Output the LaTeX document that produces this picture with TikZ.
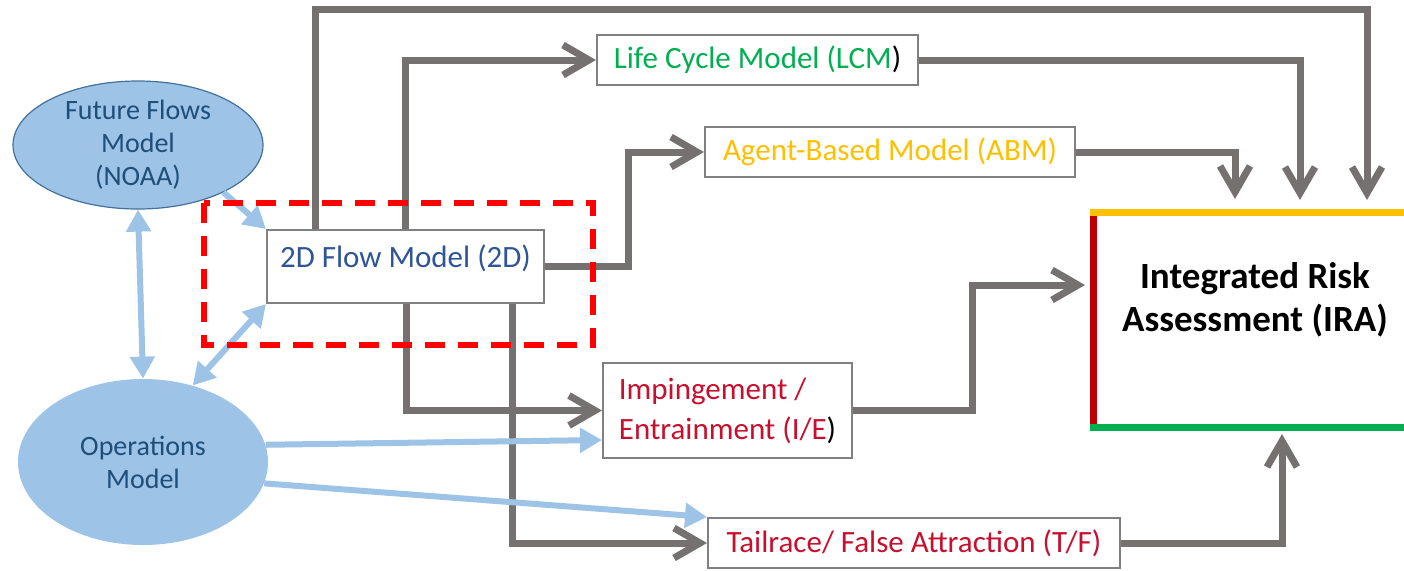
\documentclass[tikz,border=0pt]{standalone}
\usepackage{fontspec}
\setmainfont{Carlito}
\usetikzlibrary{arrows.meta,shapes.geometric,calc}
\definecolor{cgrey}{HTML}{767171}
\definecolor{cblue}{HTML}{9DC3E6}
\definecolor{cdblue}{HTML}{1F4E79}
\definecolor{cmblue}{HTML}{2F5597}
\definecolor{cgreen}{HTML}{00B050}
\definecolor{corange}{HTML}{FFC000}
\definecolor{cred}{HTML}{C00000}
\definecolor{ctext}{HTML}{C8102E}
\definecolor{cborder}{HTML}{41719C}
\definecolor{cbox}{HTML}{808080}
\begin{document}
\begin{tikzpicture}[x=0.5pt,y=-0.5pt,
  gline/.style={draw=cgrey,line width=3.5pt,-{Straight Barb[length=13pt,width=15pt]}},
  bline/.style={draw=cblue,line width=3pt,-{Triangle[length=11pt,width=12pt]}},
  bboth/.style={draw=cblue,line width=3pt,{Triangle[length=11pt,width=12pt]}-{Triangle[length=11pt,width=12pt]}},
  model/.style={ellipse,fill=cblue,text=cdblue,align=center,font=\fontsize{14}{16.5}\selectfont,inner sep=0pt},
  box/.style={draw=cbox,line width=1pt,fill=white,inner sep=0pt,font=\fontsize{15.5}{20}\selectfont},
  iraedge/.style={line width=3.5pt},
  focus/.style={draw=red,line width=3pt,dash pattern=on 10pt off 6.5pt},
]
\useasboundingbox (0,0) rectangle (1404,570);

% models
\node[model,draw=cborder,line width=0.6pt,minimum width=125pt,minimum height=64pt] (ffm) at (138,145) {Future Flows\\Model\\(NOAA)};
\node[model,minimum width=125pt,minimum height=83pt] (ops) at (143,462) {Operations\\Model};

% boxes
\node[box,text=cmblue,minimum width=138.5pt,text height=18.5pt,text depth=18pt] (twoD) at (405.5,266.5) {2D Flow Model (2D)};
\node[box,minimum width=160.5pt,minimum height=25pt] (lcm) at (757.5,60) {\color{cgreen}Life Cycle Model (LCM\color{black})};
\node[box,text=corange,minimum width=185pt,minimum height=25pt] (abm) at (890,152) {Agent-Based Model (ABM)};
\node[box,text=ctext,align=left,minimum width=124.5pt,minimum height=47.5pt] (ie) at (727.5,410.5) {Impingement /\\Entrainment (I/E\textcolor{black}{)}};
\node[box,text=ctext,minimum width=206pt,minimum height=25pt] (tf) at (914,543) {Tailrace/ False Attraction (T/F)};

% IRA
\coordinate (iraNW) at (1090,212);
\coordinate (iraNE) at (1404,212);
\coordinate (iraSW) at (1090,427);
\coordinate (iraSE) at (1404,427);
\node[align=center,font=\bfseries\fontsize{18.5}{21.5}\selectfont] (ira) at (1255,300) {Integrated Risk\\Assessment (IRA)};
\draw[iraedge,draw=cred] (1093.5,214) -- (1093.5,425);
\draw[iraedge,draw=corange] (iraNW) -- (iraNE);
\draw[iraedge,draw=cgreen] (iraSW) -- (iraSE);
\coordinate (in1) at (1367,200);
\coordinate (in2) at (1300,200);
\coordinate (in3) at (1235,199);
\coordinate (in4) at (1085,285);
\coordinate (in5) at (1282,434);

% grey connectors
\draw[gline] ([xshift=24.5pt]twoD.north west) -- ++(0,-220) -| (in1);
\draw[gline] ([xshift=69.5pt]twoD.north west) |- (lcm.west);
\draw[gline] (lcm.east) -| (in2);
\draw[gline] (twoD.east) -- ++(83,0) |- (abm.west);
\draw[gline] (abm.east) -| (in3);
\draw[gline] ([xshift=70pt]twoD.south west) |- (ie.west);
\draw[gline] (ie.east) -- ++(119,0) |- (in4);
\draw[gline] ([xshift=123pt]twoD.south west) |- (tf.west);
\draw[gline] (tf.east) -| (in5);

% blue connectors
\draw[bline] (ffm.-29) -- (twoD.north west);
\draw[bboth] (ops.57) -- (twoD.south west);
\draw[bboth] (ffm.south) -- (ops.north);
\draw[bline] (ops.8) -- ([yshift=-14.75pt]ie.west);
\draw[bline] (ops.-10) -- (tf.north west);

% focus frame
\draw[focus] (204,203) rectangle (593,345);
\end{tikzpicture}
\end{document}
